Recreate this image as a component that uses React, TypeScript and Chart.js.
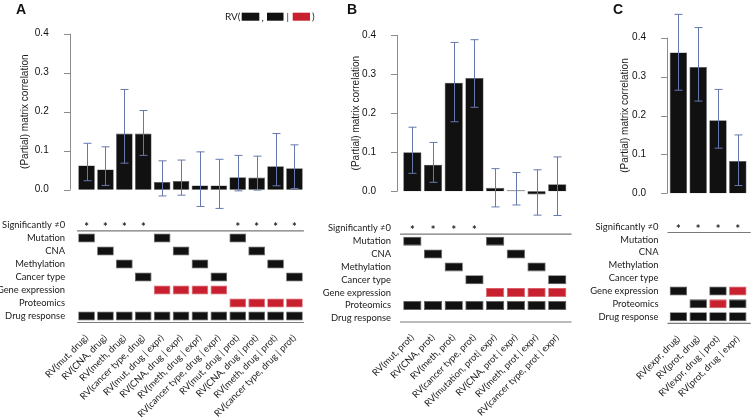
import React, { useEffect, useRef } from 'react';
import { Chart, registerables } from 'chart.js';

Chart.register(...registerables);

// ---------- data ----------
const ROW_NAMES = ['Significantly \u22600', 'Mutation', 'CNA', 'Methylation', 'Cancer type', 'Gene expression', 'Proteomics', 'Drug response'];
const Y_TICKS = [0, 0.1, 0.2, 0.3, 0.4];

const A_LABELS = ['RV(mut, drug)', 'RV(CNA, drug)', 'RV(meth, drug)', 'RV(cancer type, drug)', 'RV(mut, drug | expr)', 'RV(CNA, drug | expr)', 'RV(meth, drug | expr)', 'RV(cancer type, drug | expr)', 'RV(mut, drug | prot)', 'RV(CNA, drug | prot)', 'RV(meth, drug | prot)', 'RV(cancer type, drug | prot)'];
const A_VALUES = [0.062, 0.052, 0.144, 0.144, 0.020, 0.022, 0.011, 0.011, 0.032, 0.031, 0.060, 0.055];
const A_ERR_HIGH = [0.119, 0.110, 0.257, 0.203, 0.074, 0.076, 0.097, 0.078, 0.088, 0.086, 0.144, 0.115];
const A_ERR_LOW = [0.023, 0.011, 0.068, 0.088, -0.016, -0.014, -0.043, -0.048, -0.003, -0.001, 0.010, 0.003];
const A_SIGNIFICANT = [1, 1, 1, 1, 0, 0, 0, 0, 1, 1, 1, 1];
// rows: Mutation, CNA, Methylation, Cancer type, Gene expression, Proteomics, Drug response (1 = black, 2 = red)
const A_MATRIX = [
  [1, 0, 0, 0, 1, 0, 0, 0, 1, 0, 0, 0],
  [0, 1, 0, 0, 0, 1, 0, 0, 0, 1, 0, 0],
  [0, 0, 1, 0, 0, 0, 1, 0, 0, 0, 1, 0],
  [0, 0, 0, 1, 0, 0, 0, 1, 0, 0, 0, 1],
  [0, 0, 0, 0, 2, 2, 2, 2, 0, 0, 0, 0],
  [0, 0, 0, 0, 0, 0, 0, 0, 2, 2, 2, 2],
  [1, 1, 1, 1, 1, 1, 1, 1, 1, 1, 1, 1],
];

const B_LABELS = ['RV(mut, prot)', 'RV(CNA, prot)', 'RV(meth, prot)', 'RV(cancer type, prot)', 'RV(mutation, prot| expr)', 'RV(CNA, prot | expr)', 'RV(meth, prot | expr)', 'RV(cancer type, prot | expr)'];
const B_VALUES = [0.100, 0.068, 0.278, 0.290, 0.009, 0.003, -0.008, 0.018];
const B_ERR_HIGH = [0.164, 0.125, 0.381, 0.388, 0.058, 0.048, 0.055, 0.088];
const B_ERR_LOW = [0.046, 0.023, 0.178, 0.215, -0.040, -0.035, -0.061, -0.062];
const B_SIGNIFICANT = [1, 1, 1, 1, 0, 0, 0, 0];
const B_MATRIX = [
  [1, 0, 0, 0, 1, 0, 0, 0],
  [0, 1, 0, 0, 0, 1, 0, 0],
  [0, 0, 1, 0, 0, 0, 1, 0],
  [0, 0, 0, 1, 0, 0, 0, 1],
  [0, 0, 0, 0, 2, 2, 2, 2],
  [1, 1, 1, 1, 1, 1, 1, 1],
  [0, 0, 0, 0, 0, 0, 0, 0],
];

const C_LABELS = ['RV(expr, drug)', 'RV(prot, drug)', 'RV(expr, drug | prot)', 'RV(prot, drug | expr)'];
const C_VALUES = [0.362, 0.325, 0.188, 0.083];
const C_ERR_HIGH = [0.460, 0.426, 0.267, 0.150];
const C_ERR_LOW = [0.265, 0.237, 0.116, 0.020];
const C_SIGNIFICANT = [1, 1, 1, 1];
const C_MATRIX = [
  [0, 0, 0, 0],
  [0, 0, 0, 0],
  [0, 0, 0, 0],
  [0, 0, 0, 0],
  [1, 0, 1, 2],
  [0, 1, 2, 1],
  [1, 1, 1, 1],
];

// ---------- styles ----------
const BLACK = '#111111';
const RED = '#c8202f';
const ERR = '#6678ae';
const AXIS = '#8c8c8c';
const RULE = '#7a7a7a';
const TEXT = '#1a1a1a';
const LABEL_FONT = 'Lato, "Open Sans", sans-serif';
const NUM_FONT = '"Liberation Sans", Arial, sans-serif';
const CANVAS_H = 417;

type Panel = {
  letter: string; left: number; width: number;
  labels: string[]; values: number[]; hi: number[]; lo: number[]; sig: number[]; matrix: number[][];
  chartLeft: number; padRight: number; top: number; split: number; bottom: number;
  zero: number; ppu: number; row0: number; pitch: number;
  axisOffset: number; tickPad: number; rowPad: number; titleX: number; letterX: number;
  ruleExtL: number; ruleExtR: number; legend: boolean;
};

const PANELS: Panel[] = [
  { letter: 'A', left: 0, width: 320, labels: A_LABELS, values: A_VALUES, hi: A_ERR_HIGH, lo: A_ERR_LOW, sig: A_SIGNIFICANT, matrix: A_MATRIX,
    chartLeft: 77.1, padRight: 16.1, top: 24, split: 216, bottom: 322.5, zero: 189.7, ppu: 390, row0: 225, pitch: 13,
    axisOffset: 7, tickPad: 20.4, rowPad: 4, titleX: 25, letterX: 16, ruleExtL: 0, ruleExtR: 0, legend: true },
  { letter: 'B', left: 320, width: 258, labels: B_LABELS, values: B_VALUES, hi: B_ERR_HIGH, lo: B_ERR_LOW, sig: B_SIGNIFICANT, matrix: B_MATRIX,
    chartLeft: 82, padRight: 10.4, top: 24, split: 219, bottom: 322, zero: 191.3, ppu: 390.75, row0: 228.3, pitch: 12.86,
    axisOffset: 5.3, tickPad: 18, rowPad: 3, titleX: 36.7, letterX: 27, ruleExtL: 2, ruleExtR: 4, legend: false },
  { letter: 'C', left: 578, width: 174, labels: C_LABELS, values: C_VALUES, hi: C_ERR_HIGH, lo: C_ERR_LOW, sig: C_SIGNIFICANT, matrix: C_MATRIX,
    chartLeft: 90.5, padRight: 4.3, top: 10, split: 218, bottom: 323.3, zero: 193.3, ppu: 389, row0: 226.7, pitch: 12.86,
    axisOffset: 1.8, tickPad: 14.5, rowPad: 2, titleX: 47, letterX: 35, ruleExtL: 1, ruleExtR: 3, legend: false },
];

function makeConfig(p: Panel): any {
  const yMin = -(p.split - p.zero) / p.ppu;
  const yMax = (p.zero - p.top) / p.ppu;
  const ymMin = -(p.row0 - p.split) / p.pitch;
  const ymMax = 7 + (p.bottom - (p.row0 + 7 * p.pitch)) / p.pitch;

  const blackCells: any[] = [];
  const redCells: any[] = [];
  p.matrix.forEach((row, r) => {
    row.forEach((code, c) => {
      const cell = { x: p.labels[c], y: [r + 1 - 0.35, r + 1 + 0.35] };
      if (code === 1) blackCells.push(cell);
      if (code === 2) redCells.push(cell);
    });
  });

  const decor = {
    id: 'decor' + p.letter,
    afterDatasetsDraw(chart: any) {
      const ctx = chart.ctx as CanvasRenderingContext2D;
      const xs = chart.scales.x, ys = chart.scales.y, ym = chart.scales.ym;
      const area = chart.chartArea;
      ctx.save();
      // error bars
      ctx.strokeStyle = ERR;
      ctx.lineWidth = 1;
      p.values.forEach((_, i) => {
        const x = Math.round(xs.getPixelForValue(i)) + 0.5;
        const y1 = ys.getPixelForValue(p.hi[i]);
        const y2 = ys.getPixelForValue(p.lo[i]);
        ctx.beginPath();
        ctx.moveTo(x, y1); ctx.lineTo(x, y2);
        ctx.moveTo(x - 4, y1); ctx.lineTo(x + 4, y1);
        ctx.moveTo(x - 4, y2); ctx.lineTo(x + 4, y2);
        ctx.stroke();
      });
      // R-style y axis
      const ax = Math.round(area.left - p.axisOffset) + 0.5;
      ctx.strokeStyle = AXIS;
      ctx.lineWidth = 1;
      ctx.beginPath();
      ctx.moveTo(ax, ys.getPixelForValue(0));
      ctx.lineTo(ax, ys.getPixelForValue(0.4));
      Y_TICKS.forEach((v) => {
        const y = Math.round(ys.getPixelForValue(v)) + 0.5;
        ctx.moveTo(ax - 6.5, y); ctx.lineTo(ax, y);
      });
      ctx.stroke();
      // y title
      const mid = (ys.getPixelForValue(0) + ys.getPixelForValue(0.4)) / 2;
      ctx.save();
      ctx.translate(p.titleX, mid);
      ctx.rotate(-Math.PI / 2);
      ctx.fillStyle = TEXT;
      ctx.font = '10px ' + NUM_FONT;
      ctx.textAlign = 'center';
      ctx.textBaseline = 'middle';
      ctx.fillText('(Partial) matrix correlation', 0, 0);
      ctx.restore();
      // significance asterisks
      ctx.fillStyle = TEXT;
      ctx.font = 'bold 11px ' + LABEL_FONT;
      ctx.textAlign = 'center';
      ctx.textBaseline = 'alphabetic';
      const sy = ym.getPixelForValue(0);
      p.sig.forEach((s, i) => {
        if (s) ctx.fillText('*', xs.getPixelForValue(i), sy + 6);
      });
      // rules
      ctx.strokeStyle = RULE;
      ctx.lineWidth = 1.2;
      const ry = ym.getPixelForValue(0.45);
      ctx.beginPath();
      ctx.moveTo(area.left - p.ruleExtL, ry); ctx.lineTo(area.right + p.ruleExtR, ry);
      ctx.moveTo(area.left - p.ruleExtL, area.bottom); ctx.lineTo(area.right + p.ruleExtR, area.bottom);
      ctx.stroke();
      // panel letter
      ctx.fillStyle = '#111';
      ctx.font = 'bold 14px ' + NUM_FONT;
      ctx.textAlign = 'left';
      ctx.fillText(p.letter, p.letterX, 13.5);
      // legend
      if (p.legend) {
        ctx.font = '10px ' + LABEL_FONT;
        ctx.fillStyle = TEXT;
        ctx.textBaseline = 'middle';
        ctx.fillText('RV(', 225, 16.7);
        ctx.fillStyle = BLACK; ctx.fillRect(241.7, 12.7, 17.6, 8);
        ctx.fillStyle = TEXT; ctx.fillText(',', 261.5, 17.5);
        ctx.fillStyle = BLACK; ctx.fillRect(267, 12.7, 16.5, 8);
        ctx.fillStyle = TEXT; ctx.fillText('|', 286.5, 16.7);
        ctx.fillStyle = RED; ctx.fillRect(292.7, 12.7, 17.3, 8);
        ctx.fillStyle = TEXT; ctx.fillText(')', 312, 16.7);
      }
      ctx.restore();
    },
  };

  return {
    type: 'bar',
    data: {
      labels: p.labels,
      datasets: [
        { label: 'correlation', data: p.values, yAxisID: 'y', backgroundColor: BLACK, borderColor: '#555', borderWidth: 0.6,
          barPercentage: 0.88, categoryPercentage: 1, grouped: false },
        { label: 'black cells', data: blackCells, yAxisID: 'ym', backgroundColor: BLACK, borderColor: '#5a5a5a', borderWidth: 0.8,
          borderSkipped: false, barPercentage: 0.88, categoryPercentage: 1, grouped: false },
        { label: 'red cells', data: redCells, yAxisID: 'ym', backgroundColor: RED, borderColor: '#d8606a', borderWidth: 0.8,
          borderSkipped: false, barPercentage: 0.88, categoryPercentage: 1, grouped: false },
      ],
    },
    options: {
      animation: false,
      responsive: true,
      maintainAspectRatio: false,
      layout: { padding: { top: p.top, right: p.padRight, bottom: 0, left: 0 } },
      plugins: { legend: { display: false }, tooltip: { enabled: false } },
      scales: {
        x: {
          type: 'category',
          grid: { display: false },
          border: { display: false },
          ticks: { autoSkip: false, minRotation: 45, maxRotation: 45, padding: 2, color: TEXT, font: { family: LABEL_FONT, size: 9.3 } },
          afterFit: (s: any) => { s.height = CANVAS_H - p.bottom; s.paddingLeft = 0; s.paddingRight = 0; },
        },
        ym: {
          type: 'linear', position: 'left', stack: 'v', stackWeight: p.bottom - p.split,
          min: ymMin, max: ymMax, reverse: true,
          grid: { display: false }, border: { display: false },
          afterBuildTicks: (s: any) => { s.ticks = ROW_NAMES.map((_, i) => ({ value: i })); },
          ticks: { autoSkip: false, padding: p.rowPad, color: TEXT, font: { family: LABEL_FONT, size: 9.4 }, callback: (v: any) => ROW_NAMES[Math.round(Number(v))] },
          afterFit: (s: any) => { s.width = p.chartLeft; s.paddingTop = 0; s.paddingBottom = 0; },
        },
        y: {
          type: 'linear', position: 'left', stack: 'v', stackWeight: p.split - p.top,
          min: yMin, max: yMax,
          grid: { display: false }, border: { display: false },
          afterBuildTicks: (s: any) => { s.ticks = Y_TICKS.map((v) => ({ value: v })); },
          ticks: { autoSkip: false, padding: p.tickPad, color: '#111', font: { family: NUM_FONT, size: 10 }, callback: (v: any) => Number(v).toFixed(1) },
          afterFit: (s: any) => { s.width = p.chartLeft; s.paddingTop = 0; s.paddingBottom = 0; },
        },
      },
    },
    plugins: [decor],
  };
}

function PanelChart({ p }: { p: Panel }) {
  const ref = useRef<HTMLCanvasElement>(null);
  useEffect(() => {
    const chart = new Chart(ref.current as HTMLCanvasElement, makeConfig(p));
    return () => chart.destroy();
  }, [p]);
  return (
    <div style={{ position: 'absolute', left: p.left, top: 0, width: p.width, height: CANVAS_H }}>
      <canvas ref={ref} />
    </div>
  );
}

export default function App() {
  return (
    <div style={{ position: 'absolute', left: 0, top: 0, width: 752, height: CANVAS_H, background: '#fff', overflow: 'hidden' }}>
      {PANELS.map((p) => <PanelChart key={p.letter} p={p} />)}
    </div>
  );
}
